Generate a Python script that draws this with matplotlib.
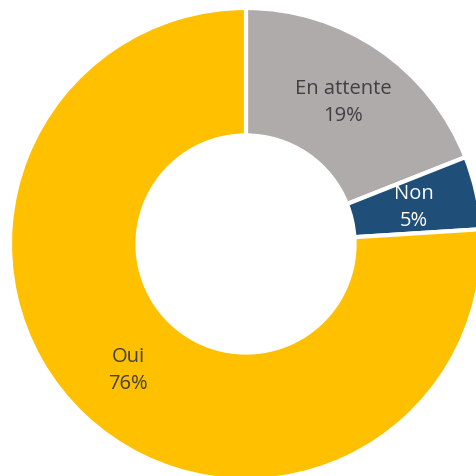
import numpy as np
import matplotlib.pyplot as plt

labels = ["En attente", "Non", "Oui"]
values = [19, 5, 76]
colors = ["#AFABAB", "#1F4E79", "#FFC000"]
text_colors = ["#404040", "#FFFFFF", "#404040"]

fig = plt.figure(figsize=(4.77, 4.77), dpi=100)
ax = fig.add_axes([0, 0, 1, 1])

cx, cy, r = 246, 232, 236
wedges, _ = ax.pie(values, colors=colors, startangle=90, counterclock=False,
                   center=(cx, cy), radius=r,
                   wedgeprops=dict(width=r * 0.54, edgecolor="white", linewidth=3))

total = sum(values)
for w, name, v, tc in zip(wedges, labels, values, text_colors):
    ang = np.deg2rad((w.theta1 + w.theta2) / 2)
    x = cx + 0.73 * r * np.cos(ang)
    y = cy + 0.73 * r * np.sin(ang)
    ax.text(x, y, f"{name}\n{round(100 * v / total)}%", ha="center", va="center",
            color=tc, fontsize=14.5, family="Open Sans", linespacing=1.45)

ax.set_xlim(0, 477)
ax.set_ylim(0, 477)
ax.set_aspect("equal")
ax.axis("off")

fig.savefig("out.png", dpi=100)
